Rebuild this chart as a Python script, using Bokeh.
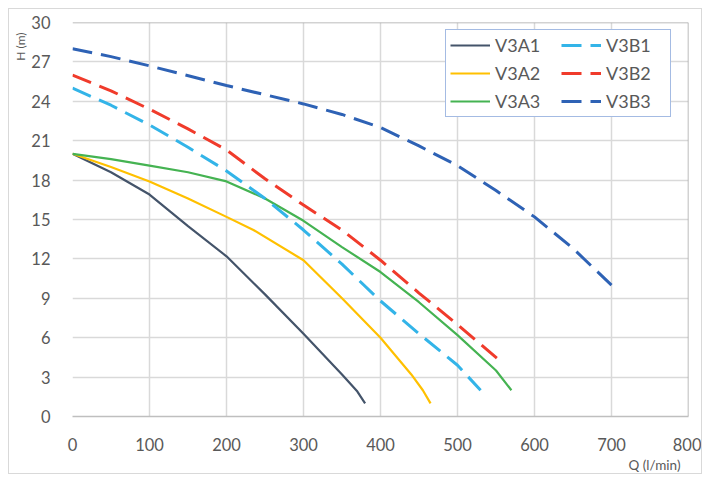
from bokeh.plotting import figure
from bokeh.models import Legend, LegendItem, Span, Title, FixedTicker
from bokeh.embed import file_html
from bokeh.resources import INLINE

# ---- data ----
q_a1 = [0, 50, 100, 150, 200, 250, 300, 350, 370, 380]
h_a1 = [20, 18.6, 16.9, 14.5, 12.2, 9.3, 6.3, 3.2, 1.9, 1.0]

q_a2 = [0, 50, 100, 150, 200, 235, 300, 350, 400, 440, 455, 465]
h_a2 = [20, 19.0, 17.9, 16.6, 15.2, 14.2, 11.9, 9.0, 6.0, 3.2, 2.0, 1.0]

q_a3 = [0, 50, 100, 150, 200, 250, 300, 350, 400, 450, 500, 550, 570]
h_a3 = [20, 19.6, 19.1, 18.6, 17.9, 16.6, 14.9, 12.9, 11.0, 8.7, 6.2, 3.5, 2.0]

q_b1 = [0, 50, 100, 150, 200, 250, 300, 350, 400, 450, 500, 530]
h_b1 = [25, 23.7, 22.2, 20.5, 18.7, 16.6, 14.2, 11.6, 8.8, 6.3, 3.9, 2.0]

q_b2 = [0, 50, 100, 150, 200, 250, 300, 350, 400, 450, 500, 560]
h_b2 = [26, 24.8, 23.4, 21.9, 20.3, 18.1, 16.1, 14.2, 11.9, 9.4, 7.0, 4.0]

q_b3 = [0, 50, 100, 200, 300, 350, 400, 450, 500, 550, 600, 650, 700]
h_b3 = [28, 27.4, 26.7, 25.2, 23.8, 23.0, 22.0, 20.6, 19.1, 17.2, 15.2, 12.8, 10.0]

x_ticks = [0, 100, 200, 300, 400, 500, 600, 700, 800]
y_ticks = [0, 3, 6, 9, 12, 15, 18, 21, 24, 27, 30]

FONT = "Lato"
TXT = "#595959"

p = figure(width=694, height=466, x_range=(0, 800), y_range=(0, 30),
           output_backend="svg", toolbar_location=None,
           min_border_left=61, min_border_right=15, min_border_top=13, min_border_bottom=59)
p.styles = {"border": "1px solid #d9d9d9", "margin": "8px 0 0 8px"}
p.background_fill_color = "white"
p.border_fill_color = "white"
p.outline_line_color = None

p.xaxis.ticker = FixedTicker(ticks=x_ticks)
p.yaxis.ticker = FixedTicker(ticks=y_ticks)
for ax in (p.xaxis, p.yaxis):
    ax.major_tick_line_color = None
    ax.minor_tick_line_color = None
    ax.major_label_text_font = FONT
    ax.major_label_text_font_size = "16.5px"
    ax.major_label_text_color = TXT
p.yaxis.axis_line_color = None
p.xaxis.axis_line_color = "#BFBFBF"
p.xaxis.axis_line_width = 1.5
p.xaxis.major_label_standoff = 15
p.yaxis.major_label_standoff = 16

p.xgrid.grid_line_color = "#D9D9D9"
p.ygrid.grid_line_color = "#D9D9D9"
p.xgrid.grid_line_width = 1.5
p.ygrid.grid_line_width = 1.5

p.add_layout(Span(location=30, dimension="width", line_color="#A6A6A6", line_width=1.5))
p.add_layout(Span(location=800, dimension="height", line_color="#A6A6A6", line_width=1.5))

DASH = "20 9"
r_a1 = p.line(q_a1, h_a1, line_color="#44546A", line_width=2.2)
r_a2 = p.line(q_a2, h_a2, line_color="#FFC000", line_width=2.2)
r_a3 = p.line(q_a3, h_a3, line_color="#45B352", line_width=2.2)
r_b1 = p.line(q_b1, h_b1, line_color="#33B4E8", line_width=3, line_dash=DASH)
r_b2 = p.line(q_b2, h_b2, line_color="#F03B2B", line_width=3, line_dash=DASH)
r_b3 = p.line(q_b3, h_b3, line_color="#2E62B5", line_width=3, line_dash=DASH)

legend = Legend(items=[
    LegendItem(label="V3A1", renderers=[r_a1]),
    LegendItem(label="V3A2", renderers=[r_a2]),
    LegendItem(label="V3A3", renderers=[r_a3]),
    LegendItem(label="V3B1", renderers=[r_b1]),
    LegendItem(label="V3B2", renderers=[r_b2]),
    LegendItem(label="V3B3", renderers=[r_b3]),
], location=(373, 299), ncols=2)
legend.label_text_font = FONT
legend.label_text_font_size = "18px"
legend.label_text_color = TXT
legend.glyph_width = 40
legend.glyph_height = 20
legend.label_width = 60
legend.label_height = 20
legend.label_standoff = 5
legend.spacing = 6
legend.padding = 4
legend.margin = 0
legend.border_line_color = "#4A78C8"
legend.border_line_width = 1.5
legend.background_fill_color = "white"
legend.background_fill_alpha = 1
p.add_layout(legend, "center")

p.add_layout(Title(text="H (m)", align="right", text_font=FONT, text_font_size="12px",
                   text_color=TXT, text_font_style="normal", standoff=2, offset=10), "left")
p.add_layout(Title(text="Q (l/min)", align="right", text_font=FONT, text_font_size="13.5px",
                   text_color=TXT, text_font_style="normal", standoff=2, offset=8), "below")

open("out.html", "w").write(file_html(p, INLINE))
